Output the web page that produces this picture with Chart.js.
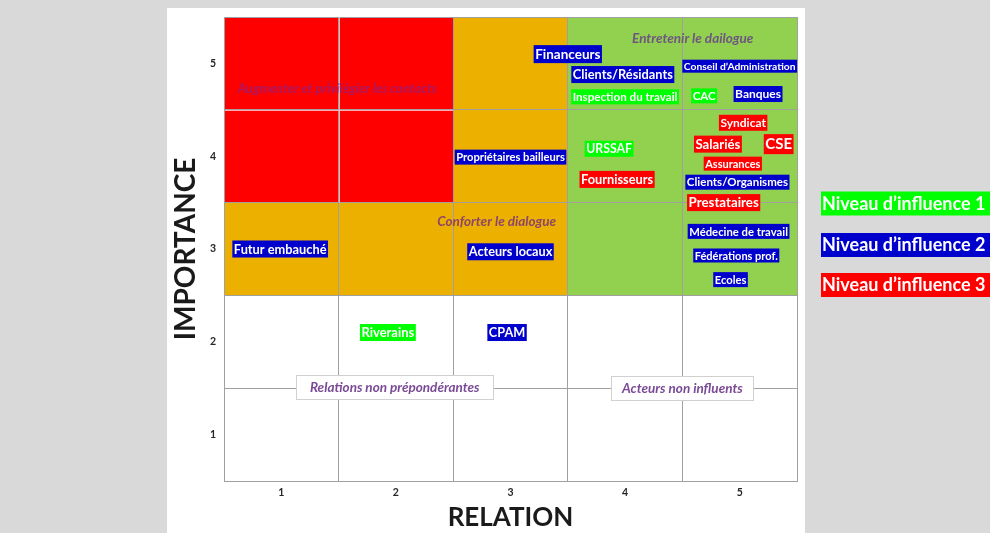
<!DOCTYPE html>
<html><head><meta charset="utf-8">
<script src="https://cdn.jsdelivr.net/npm/chart.js@4"></script>
<style>
html,body{margin:0;padding:0;background:#d9d9d9;width:990px;height:533px;overflow:hidden;}
#panel{position:absolute;left:167px;top:8px;width:638px;height:525px;background:#fff;}
#c{position:absolute;left:0;top:0;}
</style></head><body><div id="panel"></div><canvas id="c" width="990" height="533"></canvas>
<script>
// ---------- DATA ----------
const actorNames = ['Financeurs','Clients/Résidants','Inspection du travail','Conseil d’Administration','CAC','Banques',
  'Syndicat','Salariés','CSE','Assurances','Clients/Organismes','Prestataires','URSSAF','Fournisseurs',
  'Propriétaires bailleurs','Futur embauché','Acteurs locaux','Médecine de travail','Fédérations prof.','Ecoles',
  'Riverains','CPAM'];
const actorRelation = [3.50,3.98,4.00,5.00,4.69,5.16,5.03,4.81,5.34,4.94,4.98,4.86,3.86,3.93,3.00,0.99,3.00,4.99,4.97,4.92,1.93,2.97];
const actorImportance = [5.10,4.88,4.64,4.97,4.65,4.67,4.36,4.13,4.13,3.92,3.72,3.50,4.08,3.75,3.99,3.00,2.97,3.19,2.93,2.67,2.10,2.10];
const actorLevel = [2,2,1,2,1,2,3,3,3,3,2,3,1,3,2,2,2,2,2,2,1,2];
const tickValues = [1,2,3,4,5];
const zoneNames = ['augmenter','conforterHaut','conforterBas','entretenir'];
const zoneRelation = [[0.5,2.5],[2.5,3.5],[0.5,3.5],[3.5,5.5]];
const zoneImportance = [[3.5,5.5],[3.5,5.5],[2.5,3.5],[2.5,5.5]];
const noteTexts = ['Augmenter et privilégier les contacts','Conforter le dialogue','Entretenir le dailogue','Relations non prépondérantes','Acteurs non influents'];
const noteRelation = [1.49,2.88,4.59,1.99,4.50];
const noteImportance = [4.73,3.30,5.27,1.51,1.50];
const legendTexts = ['Niveau d’influence 1','Niveau d’influence 2','Niveau d’influence 3'];
const legendLevels = [1,2,3];

// ---------- STYLE ----------
const FONT = 'Lato, "Open Sans", sans-serif';
const levelColors = {1:'#00ff00',2:'#0000cc',3:'#ff0000'};
const zoneColors = {augmenter:'#ff0000',conforterHaut:'#ecb100',conforterBas:'#ecb100',entretenir:'#92d050'};
const noteStyles = [
  {color:'rgba(90,50,200,0.5)',size:13,box:false},
  {color:'#8e4568',size:13.5,box:false},
  {color:'#6e5680',size:13.5,box:false},
  {color:'#7a4a96',size:13.5,box:true,w:197},
  {color:'#7a4a96',size:13.5,box:true,w:142}
];
const labelSize = {'Financeurs':13.5,'Clients/Résidants':12.8,'Inspection du travail':11.6,'Conseil d’Administration':10.3,
  'CAC':11.5,'Banques':12,'Syndicat':12,'Salariés':13.2,'CSE':15,'Assurances':11,'Clients/Organismes':11.5,
  'Prestataires':13.3,'URSSAF':12.3,'Fournisseurs':12.8,'Propriétaires bailleurs':11.2,'Futur embauché':12.8,
  'Acteurs locaux':12.7,'Médecine de travail':11.3,'Fédérations prof.':11,'Ecoles':11.2,'Riverains':13,'CPAM':12.7};

const overlay = {
  id:'overlay',
  beforeDraw(chart){
    const {ctx, scales:{x,y}} = chart;
    ctx.save();
    zoneNames.forEach((n,i)=>{
      const x0 = x.getPixelForValue(zoneRelation[i][0]), x1 = x.getPixelForValue(zoneRelation[i][1]);
      const y0 = y.getPixelForValue(zoneImportance[i][1]), y1 = y.getPixelForValue(zoneImportance[i][0]);
      ctx.fillStyle = zoneColors[n];
      ctx.fillRect(x0,y0,x1-x0,y1-y0);
    });
    ctx.restore();
  },
  beforeDatasetsDraw(chart){
    const {ctx, scales:{x,y}} = chart;
    ctx.save();
    ctx.strokeStyle = 'rgba(255,190,190,0.9)';
    ctx.lineWidth = 1;
    const xa = x.getPixelForValue(0.5), xb = x.getPixelForValue(2.5), xm = x.getPixelForValue(1.5);
    const ya = y.getPixelForValue(5.5), yb = y.getPixelForValue(3.5), ym = y.getPixelForValue(4.5);
    ctx.beginPath();
    ctx.moveTo(Math.round(xm)+0.5, ya); ctx.lineTo(Math.round(xm)+0.5, yb);
    ctx.moveTo(xa+1, Math.round(ym)+0.5); ctx.lineTo(xb, Math.round(ym)+0.5);
    ctx.stroke();
    ctx.restore();
  },
  afterDatasetsDraw(chart){
    const {ctx, scales:{x,y}} = chart;
    ctx.save();
    ctx.textAlign='center'; ctx.textBaseline='middle';
    noteTexts.forEach((t,i)=>{
      const st = noteStyles[i];
      const px = x.getPixelForValue(noteRelation[i]), py = y.getPixelForValue(noteImportance[i]);
      if (st.box){
        ctx.fillStyle='#ffffff'; ctx.strokeStyle='#d0d0d0'; ctx.lineWidth=1;
        ctx.fillRect(px-st.w/2, py-12, st.w, 24);
        ctx.strokeRect(Math.round(px-st.w/2)+0.5, Math.round(py-12)+0.5, st.w, 24);
      }
      ctx.font = `italic bold ${st.size}px ${FONT}`;
      ctx.fillStyle = st.color;
      ctx.fillText(t, px, py+0.5);
    });
    const meta = chart.getDatasetMeta(0);
    meta.data.forEach((pt,i)=>{
      const name = actorNames[i];
      const fs = labelSize[name] || 12;
      ctx.font = `bold ${fs}px ${FONT}`;
      const w = ctx.measureText(name).width;
      const h = Math.round(fs*1.3);
      ctx.fillStyle = levelColors[actorLevel[i]];
      ctx.fillRect(pt.x-w/2-1.5, pt.y-h/2, w+3, h);
      ctx.fillStyle = '#ffffff';
      ctx.fillText(name, pt.x, pt.y+0.5);
    });
    ctx.restore();
  },
  afterDraw(chart){
    const {ctx} = chart;
    ctx.save();
    ctx.textAlign='left'; ctx.textBaseline='middle';
    const centers = [203.5,245,285];
    legendTexts.forEach((t,i)=>{
      ctx.fillStyle = levelColors[legendLevels[i]];
      ctx.fillRect(821, centers[i]-12, 990-821, 24);
      ctx.font = `bold 18px ${FONT}`;
      ctx.fillStyle='#ffffff';
      ctx.fillText(t, 822, centers[i]+0.5);
    });
    ctx.restore();
  }
};

const gridColor = c => Number.isInteger(c.tick.value) ? 'rgba(0,0,0,0)' : '#a0a0a0';
const tickCb = v => (tickValues.includes(v) ? String(v) : '');

new Chart(document.getElementById('c'), {
  type:'scatter',
  data:{datasets:[{data: actorNames.map((n,i)=>({x:actorRelation[i], y:actorImportance[i]})), pointRadius:0, pointHoverRadius:0}]},
  options:{
    responsive:false, animation:false, events:[],
    layout:{padding:{left:160, right:193, top:17, bottom:0}},
    plugins:{legend:{display:false}, tooltip:{enabled:false}},
    scales:{
      x:{type:'linear', min:0.5, max:5.5,
        ticks:{stepSize:0.5, autoSkip:false, maxRotation:0, padding:5, callback:tickCb,
          color:'#262626', font:{family:FONT, weight:'bold', size:10.5}},
        grid:{color:gridColor, drawTicks:false, lineWidth:1},
        border:{color:'#a0a0a0'},
        title:{display:true, text:'RELATION', color:'#1a1a1a', padding:{top:0,bottom:0},
          font:{family:FONT, weight:'bold', size:26, lineHeight:1.2}},
        afterFit(s){ s.height = 52; }
      },
      y:{type:'linear', min:0.5, max:5.5,
        ticks:{stepSize:0.5, autoSkip:false, padding:8, callback:tickCb,
          color:'#262626', font:{family:FONT, weight:'bold', size:10.5}},
        grid:{color:gridColor, drawTicks:false, lineWidth:1},
        border:{color:'#a0a0a0'},
        title:{display:true, text:'IMPORTANCE', color:'#1a1a1a', padding:{top:9,bottom:0},
          font:{family:FONT, weight:'bold', size:28, lineHeight:1.2}},
        afterFit(s){ s.width = 64; }
      }
    }
  },
  plugins:[overlay]
});
</script>
</body></html>
